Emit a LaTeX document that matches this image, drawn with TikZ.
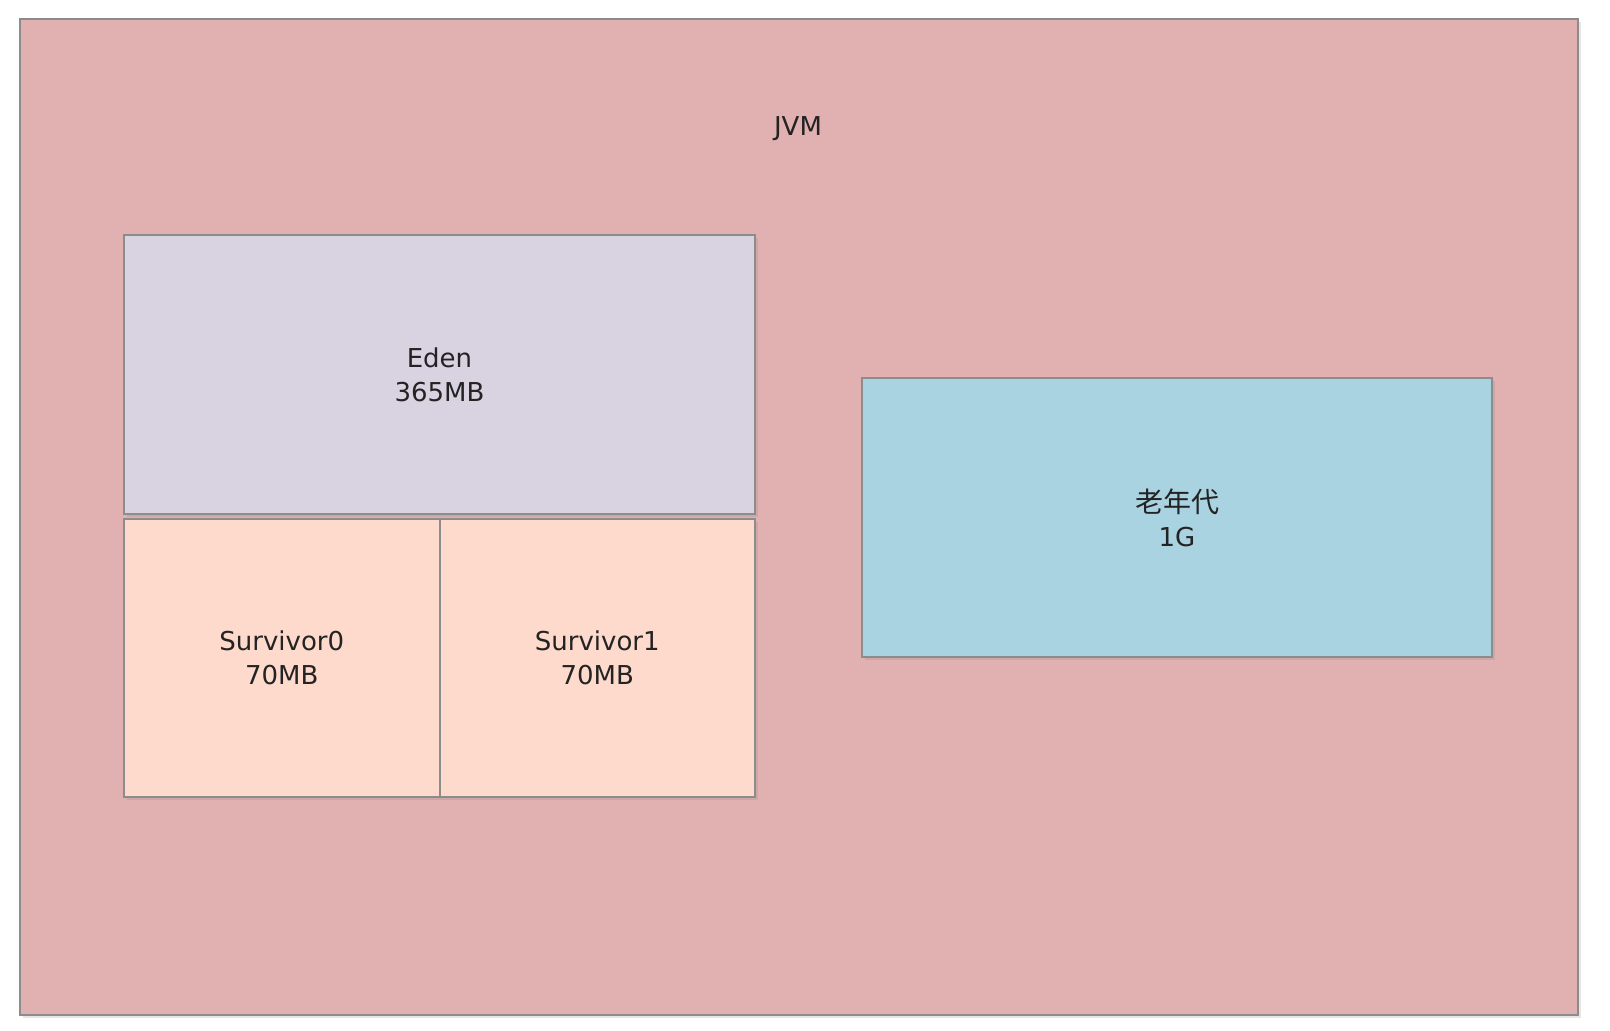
\documentclass[tikz,border=0pt]{standalone}
\usepackage{fontspec}
\setmainfont{DejaVu Sans}
\newfontfamily\cjkfont{Noto Sans CJK SC}
\usepackage{tikz}
\usetikzlibrary{positioning,shadows}
\definecolor{jvmpink}{RGB}{225,176,176}
\definecolor{edenlilac}{RGB}{217,210,225}
\definecolor{survpeach}{RGB}{254,218,204}
\definecolor{oldblue}{RGB}{169,211,225}
\definecolor{boxline}{RGB}{140,140,140}
\definecolor{textgray}{RGB}{35,35,35}
\tikzstyle{region} = [rectangle,draw=boxline,line width=2pt,inner sep=0pt,outer sep=0pt,align=center,text=textgray,font=\fontsize{26}{34}\selectfont,drop shadow={opacity=0.2,shadow xshift=3pt,shadow yshift=-3pt}]
\tikzstyle{jvmbox} = [region,fill=jvmpink,minimum width=1558pt,minimum height=996pt]
\tikzstyle{edenbox} = [region,fill=edenlilac,minimum width=631pt,minimum height=279pt]
\tikzstyle{survbox} = [region,fill=survpeach,minimum width=315.5pt,minimum height=278pt]
\tikzstyle{oldbox} = [region,fill=oldblue,minimum width=630pt,minimum height=279pt]
\tikzstyle{title} = [text=textgray,font=\fontsize{26}{34}\selectfont]
\begin{document}
\begin{tikzpicture}[x=1pt,y=-1pt]
    \useasboundingbox (0,0) rectangle (1610,1031);

      \node[jvmbox] (jvm) at (799,517) {};
      \node[title] (jvmtitle) at (798,129) {JVM};

      \node[edenbox] (eden) at (439.5,374.5) {Eden\\365MB};
      \node[survbox] (s0) [below=5pt of eden.south west,anchor=north west] {Survivor0\\70MB};
      \node[survbox] (s1) [right=0pt of s0] {Survivor1\\70MB};

      \node[oldbox] (old) at (1177,517.5) {{\cjkfont\fontsize{28}{34}\selectfont 老年代}\\1G};
    \end{tikzpicture}
\end{document}
